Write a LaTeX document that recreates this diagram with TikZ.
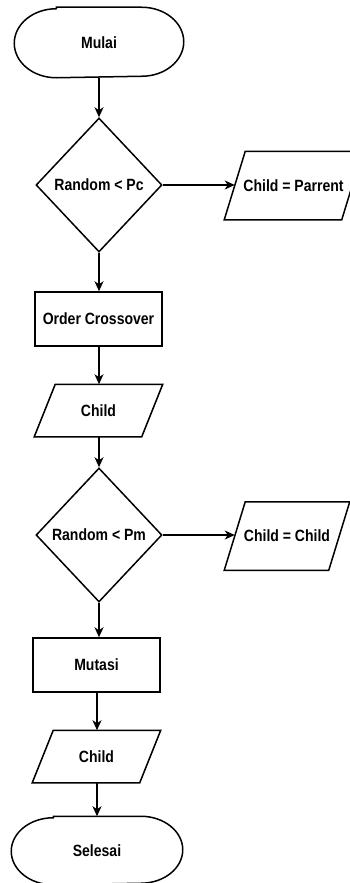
\documentclass[tikz,border=0pt]{standalone}
\usepackage{fontspec}
\setmainfont{Liberation Sans}[FakeStretch=0.86]
\usetikzlibrary{shapes.geometric,arrows.meta}
\begin{document}
\begin{tikzpicture}[x=1pt,y=-1pt,
  base/.style={font=\fontsize{16.3}{18}\selectfont\bfseries, line width=1.5pt, inner sep=0pt},
  term/.style={base},
  proc/.style={base, draw, minimum width=127pt, minimum height=54pt},
  dec/.style={base, draw, diamond, minimum width=126pt, minimum height=134pt},
  io/.style={base},
  shapepath/.style={line width=1.5pt, line join=miter},
  arr/.style={line width=1.5pt, -{Stealth[length=10pt,width=9pt,inset=3pt]}}]
\useasboundingbox (0,0) rectangle (350,883);

\node[term, minimum width=168pt, minimum height=69pt] (start) at (99,42.5) {Mulai};
\node[dec] (d1) at (99,185) {Random < Pc};
\node[io, minimum width=116pt, minimum height=67pt] (q1) at (293.5,185.5) {Child = Parrent};
\node[proc] (a) at (98.5,319) {Order Crossover};
\node[io, minimum width=106pt, minimum height=51pt] (p1) at (98.5,410.5) {Child};
\node[dec] (d2) at (99,535) {Random < Pm};
\node[io, minimum width=103pt, minimum height=67pt] (q2) at (287,536) {Child = Child};
\node[proc] (m) at (96.5,665) {Mutasi};
\node[io, minimum width=106pt, minimum height=51pt] (p2) at (96.5,756.5) {Child};
\node[term, minimum width=170pt, minimum height=67pt] (end) at (97,850.5) {Selesai};

\foreach \n in {q1,p1,q2,p2}{
  \draw[shapepath] ([xshift=-10.5pt]\n.south west) -- ([xshift=10.5pt]\n.north west)
    -- ([xshift=10.5pt]\n.north east) -- ([xshift=-10.5pt]\n.south east) -- cycle;
}
\foreach \n/\r in {start/34.5, end/33.5}{
  \draw[shapepath] ([xshift=42pt]\n.north west) -- ([xshift=-42pt]\n.north east)
    arc[start angle=90, end angle=-90, x radius=42pt, y radius=\r pt]
    -- ([xshift=42pt]\n.south west)
    arc[start angle=270, end angle=90, x radius=42pt, y radius=\r pt] -- cycle;
}

\draw[arr] (start.south -| d1.north) -- (d1.north);
\draw[arr] (d1.east) -- (d1.east -| q1.west);
\draw[arr] (d1.south) -- (d1.south |- a.north);
\draw[arr] (d1.south |- a.south) -- (d1.south |- p1.north);
\draw[arr] (d2.north |- p1.south) -- (d2.north);
\draw[arr] (d2.east) -- (d2.east -| q2.west);
\draw[arr] (d2.south) -- (d2.south |- m.north);
\draw[arr] ([xshift=0.5pt]m.south) -- ([xshift=0.5pt]m.south |- p2.north);
\draw[arr] ([xshift=0.5pt]p2.south) -- ([xshift=0.5pt]p2.south |- end.north);
\end{tikzpicture}
\end{document}
